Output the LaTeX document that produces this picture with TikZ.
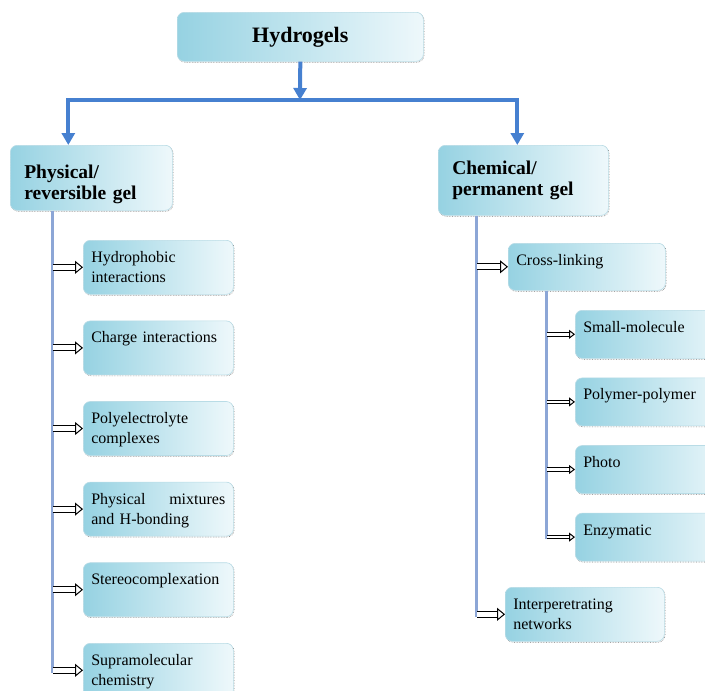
\documentclass[tikz,border=0pt]{standalone}
\usepackage{fontspec}
\setmainfont{Liberation Serif}
\usetikzlibrary{positioning,calc,arrows.meta,shadows}

\definecolor{trunkblue}{RGB}{70,128,208}
\definecolor{spineblue}{RGB}{140,166,214}
\definecolor{boxdark}{RGB}{150,210,226}
\definecolor{boxlight}{RGB}{238,248,251}
\definecolor{boxedge}{RGB}{185,220,230}

\begin{document}
\begin{tikzpicture}[x=1pt,y=-1pt]
  \useasboundingbox (0,0) rectangle (705,691);
  \clip (0,0) rectangle (705,691);
  \begin{scope}[
    box/.style={
      rectangle,
      rounded corners=7pt,
      draw=boxedge,
      line width=0.6pt,
      left color=boxdark,
      right color=boxlight,
      anchor=north west,
      general shadow={draw=black!55, densely dotted, line width=0.6pt,
        shadow xshift=0.7pt, shadow yshift=-0.9pt},
    },
    root/.style={
      box,
      minimum width=246pt,
      minimum height=49pt,
      font=\bfseries\fontsize{22}{24}\selectfont,
    },
    kind/.style={
      box,
      align=left,
      inner xsep=14pt,
      font=\bfseries\fontsize{19.5}{21}\selectfont,
    },
    leaf/.style={
      box,
      align=left,
      inner xsep=8pt,
      inner ysep=8pt,
      text width=134pt,
      text height=14pt,
      text depth=24pt,
      font=\fontsize{16}{20}\selectfont,
    },
    twig/.style={
      leaf,
      text width=141pt,
      text depth=18pt,
    },
    ]
    % Hydrogels
    \node [root] (hyd) at (177,12) {Hydrogels};

    % Physical
    \node [kind,text width=134pt,minimum height=65pt,text height=27pt] (phys) at (10,145)
    {Physical/\\reversible gel};

    % Chemical
    \node [kind,text width=142pt,minimum height=70pt] (chem) at (438,145)
    {Chemical/\\permanent gel};

    % Physical leaves
    \node [leaf] (hphob) at (83,240) {Hydrophobic\\interactions};
    \node [leaf,below=26pt of hphob] (charge) {Charge interactions};
    \node [leaf,below=26pt of charge] (polyel) {Polyelectrolyte\\complexes};
    \node [leaf,below=26pt of polyel] (mixt) {Physical\hfill mixtures\\and H-bonding};
    \node [leaf,below=26pt of mixt] (stereo) {Stereocomplexation};
    \node [leaf,below=26pt of stereo] (supra) {Supramolecular\\chemistry};

    % Chemical leaves
    \node [twig,text width=141pt,text depth=17pt] (cross) at (508,243) {Cross-linking};
    \node [twig] (small) at (575,310) {Small-molecule};
    \node [twig,below=19pt of small] (polpol) {Polymer-polymer};
    \node [twig,below=19pt of polpol] (photo) {Photo};
    \node [twig,below=19pt of photo] (enzym) {Enzymatic};
    \node [leaf,text width=143pt] (interp) at (505,587) {Interperetrating\\networks};
  \end{scope}
  \begin{scope}[
    trunk/.style={
      draw=trunkblue,
      line width=4pt,
    },
    tip/.style={
      -{Triangle[width=13pt,length=12pt]},
    },
    spine/.style={
      draw=spineblue,
      line width=3pt,
    },
    hollow/.style={
      preaction={draw=black, line width=7pt, -, shorten >=6pt},
      preaction={draw=white, line width=5pt, -, shorten >=5pt, shorten <=1pt},
      draw=white,
      line width=1pt,
      shorten <=1pt,
      -{Triangle[color=black,fill=white,length=8pt,width=13pt]},
    },
    slim/.style={
      preaction={draw=black, line width=4.4pt, -, shorten >=4pt},
      preaction={draw=white, line width=2.4pt, -, shorten >=3pt, shorten <=1pt},
      draw=white,
      line width=1pt,
      shorten <=1pt,
      -{Triangle[color=black,fill=white,length=6pt,width=9pt]},
    },
    ]
    % Path hyd
    \coordinate (bar) at (300,100);
    \draw [trunk,tip] (hyd.south) -- (bar);
    \draw [trunk,tip] (bar) -| ([xshift=-23pt]phys.north);
    \draw [trunk,tip] (bar) -| ([xshift=-6pt]chem.north);

    % Path phys
    \coordinate (pspine) at ([xshift=42pt]phys.south west);
    \draw [spine] (pspine) -- ([yshift=-3pt]pspine |- supra.west);
    \draw [hollow] (pspine |- hphob.west) -- (hphob.west);
    \draw [hollow] (pspine |- charge.west) -- (charge.west);
    \draw [hollow] (pspine |- polyel.west) -- (polyel.west);
    \draw [hollow] (pspine |- mixt.west) -- (mixt.west);
    \draw [hollow] (pspine |- stereo.west) -- (stereo.west);
    \draw [hollow] (pspine |- supra.west) -- (supra.west);

    % Path chem
    \coordinate (cspine) at ([xshift=38pt]chem.south west);
    \draw [spine] (cspine) -- ([yshift=-3pt]cspine |- interp.west);
    \draw [hollow] (cspine |- cross.west) -- (cross.west);
    \draw [hollow] (cspine |- interp.west) -- (interp.west);

    % Path cross
    \coordinate (xspine) at ([xshift=38pt]cross.south west);
    \draw [spine] (xspine) -- ([yshift=-2pt]xspine |- enzym.west);
    \draw [slim] (xspine |- small.west) -- (small.west);
    \draw [slim] (xspine |- polpol.west) -- (polpol.west);
    \draw [slim] (xspine |- photo.west) -- (photo.west);
    \draw [slim] (xspine |- enzym.west) -- (enzym.west);
  \end{scope}
\end{tikzpicture}
\end{document}
